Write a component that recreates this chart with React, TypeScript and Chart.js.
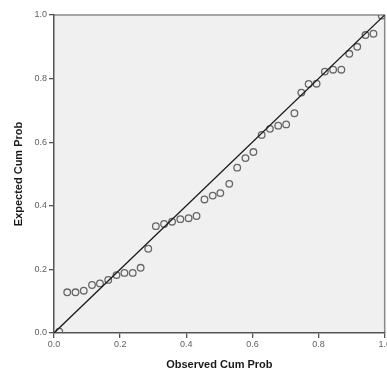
import React, { useEffect, useRef } from "react";
import { Chart, registerables } from "chart.js";

Chart.register(...registerables);

const observedCumProb = [
  0.016, 0.04, 0.065, 0.09, 0.115, 0.139, 0.164, 0.189, 0.213, 0.238, 0.262,
  0.285, 0.308, 0.333, 0.357, 0.382, 0.407, 0.431, 0.455, 0.48, 0.503, 0.53,
  0.554, 0.579, 0.603, 0.628, 0.653, 0.678, 0.702, 0.727, 0.748, 0.77, 0.794,
  0.819, 0.844, 0.869, 0.893, 0.917, 0.942, 0.966, 0.991,
];
const expectedCumProb = [
  0.004, 0.128, 0.128, 0.133, 0.151, 0.156, 0.167, 0.182, 0.189, 0.189, 0.205,
  0.265, 0.336, 0.343, 0.35, 0.358, 0.361, 0.368, 0.42, 0.432, 0.44, 0.469,
  0.52, 0.55, 0.569, 0.623, 0.642, 0.652, 0.656, 0.691, 0.756, 0.783, 0.784,
  0.822, 0.828, 0.828, 0.878, 0.9, 0.937, 0.941, 0.998,
];
const refLineX = [0, 1];
const refLineY = [0, 1];
const tickValues = [0, 0.2, 0.4, 0.6, 0.8, 1.0];

const W = 387;
const CW = 390;
const H = 372;
const LEFT = 54;
const TOP = 15;
const BOTTOM = 333;

const bgPlugin = {
  id: "plotBg",
  beforeDraw(chart: any) {
    const { ctx, chartArea } = chart;
    ctx.save();
    ctx.fillStyle = "#f0f0f0";
    ctx.fillRect(chartArea.left, chartArea.top, chartArea.right - chartArea.left, chartArea.bottom - chartArea.top);
    ctx.strokeStyle = "#8a8a8a";
    ctx.lineWidth = 1.5;
    ctx.beginPath();
    ctx.moveTo(chartArea.left, chartArea.top);
    ctx.lineTo(chartArea.right, chartArea.top);
    ctx.lineTo(chartArea.right, chartArea.bottom);
    ctx.stroke();
    ctx.restore();
  },
};

export default function App() {
  const ref = useRef<HTMLCanvasElement | null>(null);
  useEffect(() => {
    if (!ref.current) return;
    const font = "'Liberation Sans', Arial, sans-serif";
    const chart = new Chart(ref.current, {
      type: "scatter",
      data: {
        datasets: [
          {
            type: "line",
            data: refLineX.map((x, i) => ({ x, y: refLineY[i] })),
            borderColor: "#1a1a1a",
            borderWidth: 1.3,
            pointRadius: 0,
            fill: false,
          } as any,
          {
            data: observedCumProb.map((x, i) => ({ x, y: expectedCumProb[i] })),
            pointRadius: 3.3,
            pointBorderColor: "#666666",
            pointBackgroundColor: "rgba(0,0,0,0)",
            pointBorderWidth: 1.3,
            borderColor: "#666666",
          },
        ],
      },
      options: {
        animation: false,
        responsive: false,
        events: [],
        layout: { padding: { top: TOP, right: 2, left: 0, bottom: 0 } },
        plugins: { legend: { display: false }, tooltip: { enabled: false } },
        scales: {
          x: {
            type: "linear",
            min: 0,
            max: 1,
            afterBuildTicks: (s: any) => {
              s.ticks = tickValues.map((v) => ({ value: v }));
            },
            afterFit: (s: any) => {
              s.height = H - BOTTOM;
              s.paddingLeft = 0;
              s.paddingRight = 0;
            },
            grid: { drawOnChartArea: false, drawTicks: true, tickLength: 5, color: "#555555", lineWidth: 1.3 },
            border: { display: true, color: "#555555", width: 1.5 },
            ticks: {
              color: "#606060",
              font: { family: font, size: 9 },
              padding: 1,
              maxRotation: 0,
              autoSkip: false,
              callback: (v: any) => Number(v).toFixed(1),
            },
            title: {
              display: true,
              text: "Observed Cum Prob",
              color: "#1a1a1a",
              font: { family: font, size: 11, weight: "bold" },
              padding: { top: 8, bottom: 0 },
            },
          },
          y: {
            type: "linear",
            min: 0,
            max: 1,
            afterBuildTicks: (s: any) => {
              s.ticks = tickValues.map((v) => ({ value: v }));
            },
            afterFit: (s: any) => {
              s.width = LEFT;
              s.paddingTop = 0;
              s.paddingBottom = 0;
            },
            grid: { drawOnChartArea: false, drawTicks: true, tickLength: 5, color: "#555555", lineWidth: 1.3 },
            border: { display: true, color: "#555555", width: 1.5 },
            ticks: {
              color: "#606060",
              font: { family: font, size: 9 },
              padding: 2,
              autoSkip: false,
              callback: (v: any) => Number(v).toFixed(1),
            },
            title: {
              display: true,
              text: "Expected Cum Prob",
              color: "#1a1a1a",
              font: { family: font, size: 11, weight: "bold" },
              padding: { top: 12, bottom: 6 },
            },
          },
        },
      } as any,
      plugins: [bgPlugin],
    });
    return () => chart.destroy();
  }, []);
  return (
    <div style={{ position: "fixed", left: 0, top: 0, width: W, height: H, overflow: "hidden", background: "#fff" }}>
      <canvas ref={ref} width={CW} height={H} style={{ width: CW, height: H, display: "block" }} />
    </div>
  );
}
